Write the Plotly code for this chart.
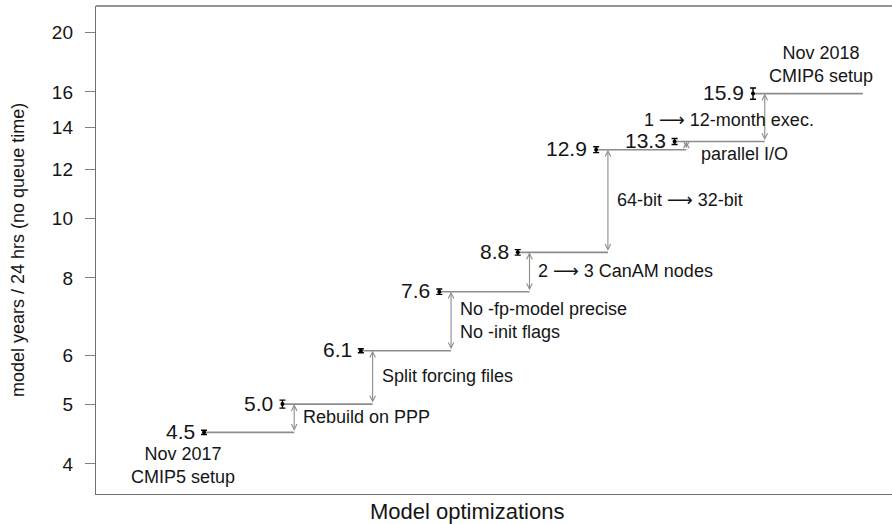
import math
import plotly.graph_objects as go

# ---- data ----
stages = [1, 2, 3, 4, 5, 6, 7, 8]
speed = [4.5, 5.0, 6.1, 7.6, 8.8, 12.9, 13.3, 15.9]
speed_err = [0.035, 0.075, 0.045, 0.075, 0.09, 0.14, 0.15, 0.33]
value_labels = ["4.5", "5.0", "6.1", "7.6", "8.8", "12.9", "13.3", "15.9"]
changes = [
    "Rebuild on PPP",
    "Split forcing files",
    "No -fp-model precise<br>No -init flags",
    "2 \u27f6 3 CanAM nodes",
    "64-bit \u27f6 32-bit",
    "parallel I/O",
    "1 \u27f6 12-month exec.",
]
start_label = "Nov 2017<br>CMIP5 setup"
end_label = "Nov 2018<br>CMIP6 setup"
y_ticks = [4, 5, 6, 8, 10, 12, 14, 16, 20]

FONT = "Liberation Sans, Arial, DejaVu Sans, sans-serif"
TXT = "#151515"
GREY = "#8c8c8c"
OFF = 0.15      # arrow offset to right of next point
TAIL = 1.40     # final line extension
FS = 18

# step lines
lx, ly = [], []
for i in range(len(stages)):
    x0 = stages[i]
    x1 = stages[i + 1] + OFF if i + 1 < len(stages) else stages[i] + TAIL
    lx += [x0, x1, None]
    ly += [speed[i], speed[i], None]

fig = go.Figure()
fig.add_trace(go.Scatter(x=lx, y=ly, mode="lines",
                         line=dict(color=GREY, width=1.6),
                         hoverinfo="skip", showlegend=False))
fig.add_trace(go.Scatter(x=stages, y=speed, mode="markers",
                         marker=dict(color="black", size=4),
                         error_y=dict(type="data", array=speed_err, color="black",
                                      thickness=1.4, width=3),
                         showlegend=False))

ann = []
# value labels
for xv, v, t in zip(stages, speed, value_labels):
    ann.append(dict(x=xv, y=math.log10(v), xref="x", yref="y", text=t,
                    showarrow=False, xanchor="right", yanchor="middle",
                    xshift=-7, yshift=1, font=dict(size=21, color=TXT, family=FONT)))

# arrows and change labels
for i, t in enumerate(changes):
    xa = stages[i + 1] + OFF
    lo, hi = math.log10(speed[i]), math.log10(speed[i + 1])
    ann.append(dict(x=xa, y=hi, ax=xa, ay=lo, xref="x", yref="y", axref="x", ayref="y",
                    text="", showarrow=True, arrowhead=5, startarrowhead=5,
                    arrowside="end+start", arrowsize=1.0, startarrowsize=1.0,
                    arrowwidth=1.1, arrowcolor=GREY, standoff=0, startstandoff=0))
    mid = (lo + hi) / 2
    if t.startswith("parallel"):
        ann.append(dict(x=xa, y=lo, xref="x", yref="y", text=t, showarrow=False,
                        xanchor="left", yanchor="middle", xshift=13, yshift=-4,
                        font=dict(size=FS, color=TXT, family=FONT)))
    elif t.startswith("1 "):
        ann.append(dict(x=xa, y=mid, xref="x", yref="y", text=t, showarrow=False,
                        xanchor="center", yanchor="middle", xshift=-36, yshift=-2,
                        font=dict(size=FS, color=TXT, family=FONT)))
    else:
        ann.append(dict(x=xa, y=mid, xref="x", yref="y", text=t, showarrow=False,
                        xanchor="left", yanchor="middle", xshift=7, yshift=1,
                        align="left", font=dict(size=FS, color=TXT, family=FONT)))

ann.append(dict(x=stages[0], y=math.log10(speed[0]), xref="x", yref="y", text=start_label,
                showarrow=False, xanchor="center", yanchor="top", xshift=-21, yshift=-10,
                align="center", font=dict(size=FS, color=TXT, family=FONT)))
ann.append(dict(x=stages[-1], y=math.log10(speed[-1]), xref="x", yref="y", text=end_label,
                showarrow=False, xanchor="center", yanchor="bottom", xshift=68, yshift=6,
                align="center", font=dict(size=FS, color=TXT, family=FONT)))

# axis titles
ann.append(dict(x=0, y=0.5, xref="paper", yref="paper", text="model years / 24 hrs (no queue time)",
                showarrow=False, textangle=-90, xanchor="center", yanchor="middle", xshift=-78,
                font=dict(size=18, color=TXT, family=FONT)))
ann.append(dict(x=0.466, y=0, xref="paper", yref="paper", text="Model optimizations",
                showarrow=False, xanchor="center", yanchor="middle", yshift=-17,
                font=dict(size=22, color=TXT, family=FONT)))

fig.update_layout(
    width=892, height=524,
    margin=dict(l=96, r=0, t=6, b=30),
    paper_bgcolor="white", plot_bgcolor="white",
    annotations=ann,
    shapes=[dict(type="line", xref="paper", yref="paper", x0=0, x1=1, y0=1, y1=1,
                 line=dict(color="#707070", width=1.4))],
    xaxis=dict(range=[-0.377, 9.772], showticklabels=False, ticks="", showgrid=False,
               zeroline=False, showline=True, linecolor="#707070", linewidth=1.4),
    yaxis=dict(type="log", range=[0.5535, 1.3431], tickvals=y_ticks,
               ticktext=[str(v) for v in y_ticks], ticks="outside", ticklen=10,
               tickcolor="#808080", tickwidth=1.2, showgrid=False, zeroline=False,
               showline=True, linecolor="#707070", linewidth=1.4, ticklabelstandoff=8,
               tickfont=dict(size=19, color=TXT, family=FONT)),
)

fig.write_html("out.html")
